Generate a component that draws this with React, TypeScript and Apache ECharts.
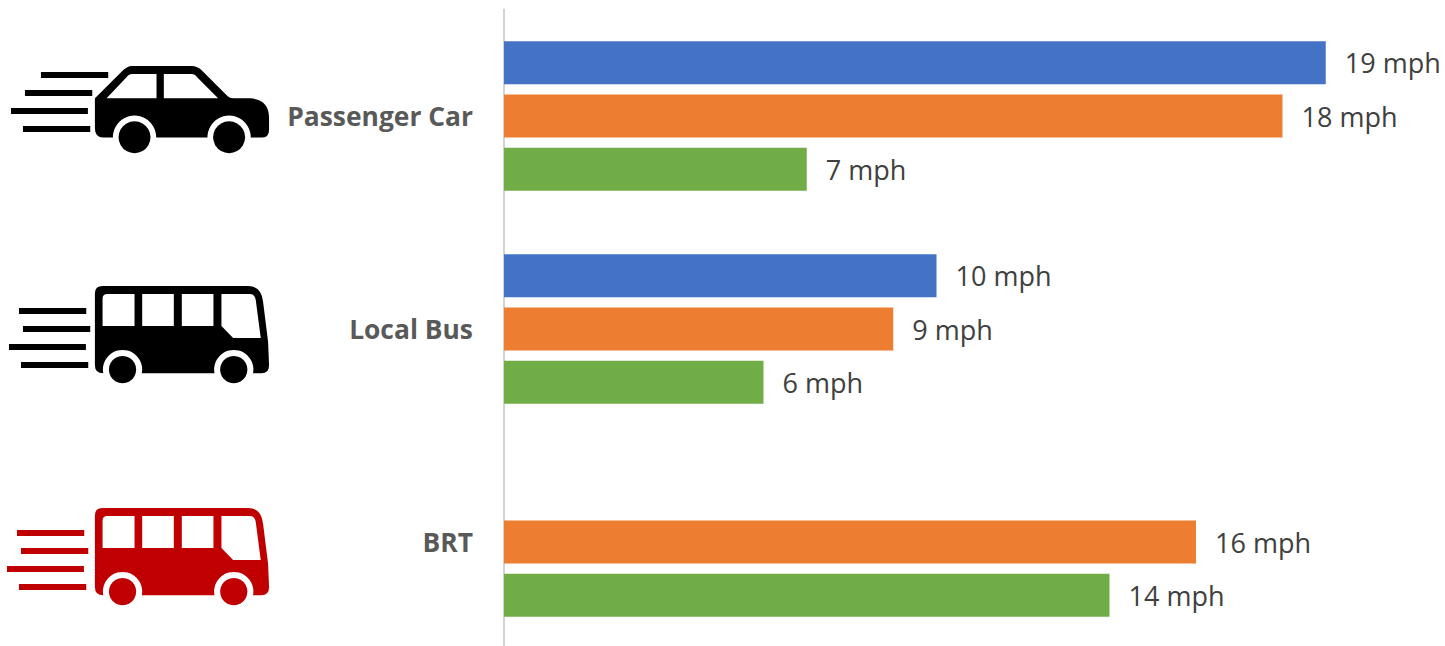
import React, { useEffect, useRef } from "react";
import * as echarts from "echarts";

const categories = ["Passenger Car", "Local Bus", "BRT"];
const seriesBlue = [19, 10, null];
const seriesOrange = [18, 9, 16];
const seriesGreen = [7, 6, 14];
const colours = ["#4472C4", "#ED7D31", "#70AD47"];

// Vehicle silhouettes, drawn at three times their on-screen size.
const CAR_D =
  "M285 145 L365 65 Q381 48 397 48 L575 48 Q593 48 607 62 L683 138 Q690 145 700 145 L750 145 Q808 148 808 205 L808 240 Q808 263 785 263 L310 263 Q285 263 285 235 Z " +
  "M320 145 L470 145 L470 72 L397 72 Q387 72 380 82 Z " +
  "M492 145 L655 145 L592 82 Q585 72 575 72 L492 72 Z";
const BUS_D =
  "M285 70 Q285 48 308 48 L745 48 Q785 48 790 95 L805 215 L808 285 Q808 310 785 310 L310 310 Q285 310 285 285 Z " +
  "M308 168 L404 168 L404 72 L322 72 Q308 72 308 86 Z " +
  "M427 168 L522 168 L522 72 L427 72 Z " +
  "M546 168 L641 168 L641 72 L546 72 Z " +
  "M665 168 L700 204 L783 204 L768 90 Q765 72 750 72 L665 72 Z";

echarts.graphic.registerShape("carBody", echarts.graphic.extendPath(CAR_D, {}) as any);
echarts.graphic.registerShape("busBody", echarts.graphic.extendPath(BUS_D, {}) as any);

type Streak = [number, number, number];

const carStreaks: Streak[] = [[123, 66, 202], [75, 120, 202], [33, 174, 231], [69, 228, 202]];
const busStreaks: Streak[] = [[57, 114, 202], [69, 168, 202], [27, 222, 231], [63, 276, 202]];

function vehicle(
  shape: string,
  x: number,
  y: number,
  fill: string,
  streaks: Streak[],
  wheels: number[],
  wheelY: number,
  wheelR: number,
  archR: number,
  streakDx = 0,
  streakDy = 0
) {
  return {
    type: "group",
    x,
    y,
    scaleX: 1 / 3,
    scaleY: 1 / 3,
    silent: true,
    children: [
      ...streaks.map(([sx, sy, w]) => ({
        type: "rect",
        shape: { x: sx + streakDx, y: sy + streakDy, width: w, height: 18 },
        style: { fill },
      })),
      { type: shape, style: { fill } },
      ...wheels.flatMap((cx) => [
        { type: "circle", shape: { cx, cy: wheelY, r: archR }, style: { fill: "#FFFFFF" } },
        { type: "circle", shape: { cx, cy: wheelY, r: wheelR }, style: { fill } },
      ]),
    ],
  };
}

const FONT = '"Open Sans", "Noto Sans", sans-serif';

export default function App() {
  const ref = useRef<HTMLDivElement>(null);

  useEffect(() => {
    const chart = echarts.init(ref.current!, undefined, { renderer: "svg" });
    const makeSeries = (data: (number | null)[], color: string) => ({
      type: "bar",
      data,
      barWidth: 43,
      barGap: "24%",
      itemStyle: { color },
      label: {
        show: true,
        position: "right",
        distance: 19,
        formatter: "{c} mph",
        fontFamily: FONT,
        fontSize: 27,
        color: "#404040",
      },
    });

    chart.setOption({
      animation: false,
      backgroundColor: "#FFFFFF",
      grid: {
        left: 504,
        top: 9.5,
        width: 865,
        height: 639,
        containLabel: false,
        outerBoundsMode: "none",
      },
      xAxis: { type: "value", min: 0, max: 20, show: false },
      yAxis: {
        type: "category",
        inverse: true,
        data: categories,
        offset: 1,
        axisTick: { show: false },
        axisLine: { lineStyle: { color: "#D3D3D3", width: 2 } },
        axisLabel: {
          margin: 30,
          fontFamily: FONT,
          fontSize: 26.4,
          fontWeight: "bold",
          color: "#595959",
        },
      },
      series: [
        makeSeries(seriesBlue, colours[0]),
        makeSeries(seriesOrange, colours[1]),
        makeSeries(seriesGreen, colours[2]),
      ],
      graphic: [
        vehicle("carBody", 0, 50, "#000000", carStreaks, [404, 688], 262, 48, 65),
        vehicle("busBody", 0, 270, "#000000", busStreaks, [368, 702], 299, 41, 59),
        vehicle("busBody", 0, 492, "#C00000", busStreaks, [368, 702], 299, 41, 59, -6, 0),
      ],
    });
    return () => chart.dispose();
  }, []);

  return (
    <div
      ref={ref}
      style={{ position: "absolute", left: 0, top: 0, width: 1445, height: 646 }}
    />
  );
}
